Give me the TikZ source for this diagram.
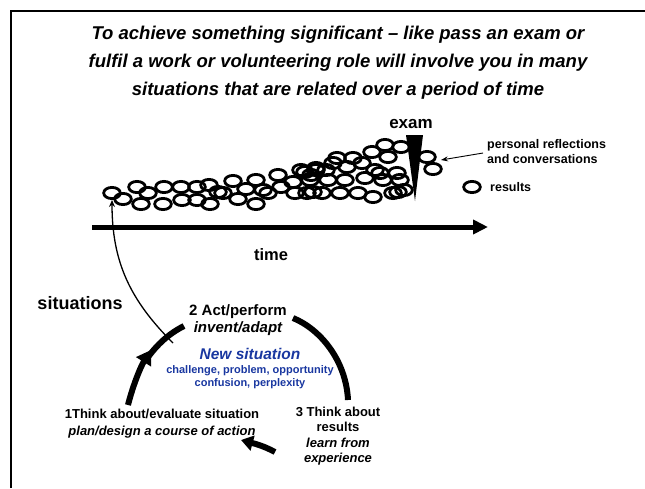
\documentclass[tikz,border=0pt]{standalone}
\usepackage{fontspec}
\setmainfont{Liberation Sans}
\usetikzlibrary{arrows.meta}
\definecolor{nsblue}{RGB}{25,55,160}
\begin{document}
\begin{tikzpicture}[x=1pt,y=-1pt,
  txt/.style={inner sep=0pt, align=center, font=\bfseries},
  sit/.style={line width=2.8pt, x radius=8.3pt, y radius=5.6pt},
  thickarc/.style={line width=6pt},
]
\useasboundingbox (0,0) rectangle (645,488);
% frame
\draw[line width=1.4pt] (11,488) -- (11,11) -- (645,11);
% title
\node[txt, font=\fontsize{18.5}{28}\selectfont\bfseries\itshape] (title) at (338,63)
 {To achieve something significant -- like pass an exam or\\
  fulfil a work or volunteering role will involve you in many\\
  situations that are related over a period of time};
% situations ellipses
\foreach \p in {(112,193),(123,199),(137,187),(141,204),(148,193),(164,187),(163,204),
  (181,187),(182,200),(197,187),(197,200),(209,185),(210,204),(223,193),
  (218,192),(233,181),(238,199),(246,189),(256,180),(256,204),(263,190),(268,193),
  (278,175),(281,187),(293,182),(295,193),(301,170),(311,175),(316,170),(313,192),
  (385,145),(401,147),(372,152),(388,157),(353,158),(337,158),(333,163),(316,168),
  (326,170),(305,172),(347,167),(362,163),(375,170),(380,173),(397,173),(310,180),
  (328,180),(345,180),(365,178),(383,180),(400,180),(307,193),(322,193),(340,193),
  (358,193),(373,197),(393,193),(398,192),(404,190),(427,157),(433,169)}
  \draw[sit] \p ellipse[];
\coordinate (sitend) at (112,200);
% exam wedge
\node[txt, font=\fontsize{17}{20}\selectfont\bfseries] (exam) at (411,124) {exam};
\fill (406,135) -- (423,135) -- (415,201) -- cycle;
% legend
\node[txt, font=\fontsize{12.5}{15}\selectfont\bfseries, align=left, anchor=west] (pers) at (487,152)
 {personal reflections\\and conversations};
\coordinate (persend) at (441,160);
\draw[line width=0.9pt, -{Stealth[length=7pt,width=5pt]}] (pers.west) ++(-4,1) -- (persend);
\draw[sit] (472,187) ellipse[];
\node[txt, font=\fontsize{12.5}{15}\selectfont\bfseries, anchor=west] (res) at (490,187) {results};
% time axis
\coordinate (t0) at (92,227);
\coordinate (t1) at (488,227);
\draw[line width=5pt, -{Triangle[length=15pt,width=14pt]}] (t0) -- (t1);
\node[txt, font=\fontsize{16.5}{19}\selectfont\bfseries] (time) at (271,255) {time};
% situations label and thin arrow
\node[txt, font=\fontsize{18}{21}\selectfont\bfseries] (sitlab) at (80,303) {situations};
\coordinate (sitstart) at (173,343);
\draw[line width=1.3pt, -{Stealth[length=7pt,width=6pt]}] (sitstart) .. controls (130,300) and (112,262) .. (sitend);
% cycle texts
\node[txt, font=\fontsize{15}{17}\selectfont\bfseries] (act) at (238,320)
 {2 Act/perform\\\itshape invent/adapt};
\node[txt, font=\fontsize{15.5}{19}\selectfont\bfseries\itshape, text=nsblue] (newsit) at (250,354) {New situation};
\node[txt, font=\fontsize{11}{13.5}\selectfont\bfseries, text=nsblue] (chal) at (250,377)
 {challenge, problem, opportunity\\confusion, perplexity};
\node[txt, font=\fontsize{13}{17}\selectfont\bfseries] (think1) at (162,424)
 {1Think about/evaluate situation\\\itshape plan/design a course of action};
\node[txt, font=\fontsize{13}{15.5}\selectfont\bfseries] (think3) at (338,436)
 {3 Think about\\results\\\itshape learn from\\\itshape experience};
% cycle arcs
\coordinate (a1s) at (128,405);
\coordinate (a1e) at (151,350);
\coordinate (a2s) at (146,360);
\coordinate (a2e) at (184,326);
\coordinate (a3s) at (293,318);
\coordinate (a3e) at (348,400);
\coordinate (a4s) at (275,452);
\coordinate (a4e) at (241,440);
\draw[thickarc, -{Triangle[length=14pt,width=17pt]}] (a1s) .. controls (133,385) and (141,366) .. (a1e);
\draw[thickarc] (a2s) .. controls (157,344) and (170,333) .. (a2e);
\draw[thickarc] (a3s) .. controls (320,329) and (346,360) .. (a3e);
\draw[thickarc, -{Triangle[length=12pt,width=15pt]}] (a4s) .. controls (262,445) and (252,443) .. (a4e);
\end{tikzpicture}
\end{document}
